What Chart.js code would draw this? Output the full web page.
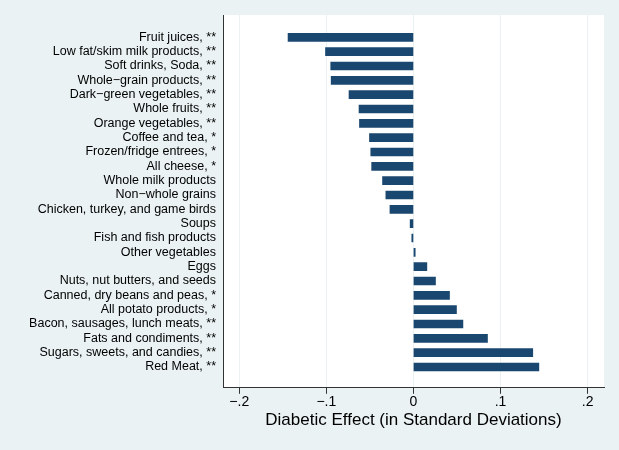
<!DOCTYPE html>
<html>
<head>
<meta charset="utf-8">
<script src="https://cdn.jsdelivr.net/npm/chart.js@4/dist/chart.umd.min.js"></script>
<style>
  html, body { margin: 0; padding: 0; background: #eaf2f3; }
  #wrap { width: 619px; height: 450px; }
</style>
</head>
<body>
<div id="wrap"><canvas id="grafico"></canvas></div>
<script>
// food groups, top to bottom
const categorias = [
  "Fruit juices, **", "Low fat/skim milk products, **", "Soft drinks, Soda, **",
  "Whole\u2212grain products, **", "Dark\u2212green vegetables, **", "Whole fruits, **",
  "Orange vegetables, **", "Coffee and tea, *", "Frozen/fridge entrees, *",
  "All cheese, *", "Whole milk products", "Non\u2212whole grains",
  "Chicken, turkey, and game birds", "Soups", "Fish and fish products",
  "Other vegetables", "Eggs", "Nuts, nut butters, and seeds",
  "Canned, dry beans and peas, *", "All potato products, *",
  "Bacon, sausages, lunch meats, **", "Fats and condiments, **",
  "Sugars, sweets, and candies, **", "Red Meat, **"
];

// diabetic effect (SD)
const efeitos = [
  -0.144, -0.101, -0.095, -0.0945, -0.074, -0.0625,
  -0.062, -0.0505, -0.049, -0.048, -0.0355, -0.0317,
  -0.027, -0.0038, -0.0019, 0.002, 0.0154, 0.0253,
  0.0414, 0.0494, 0.0568, 0.085, 0.137, 0.144
];

const ticksX = [-0.2, -0.1, 0, 0.1, 0.2];
const rotulosX = ["\u2212.2", "\u2212.1", "0", ".1", ".2"];

const fundo = {
  id: 'fundo',
  beforeDraw(chart) {
    const { ctx, chartArea: a } = chart;
    ctx.save();
    ctx.fillStyle = '#eaf2f3';
    ctx.fillRect(0, 0, chart.width, chart.height);
    ctx.fillStyle = '#ffffff';
    ctx.fillRect(a.left, a.top, a.right - a.left, a.bottom - a.top);
    ctx.restore();
  }
};

const fonte = "'Liberation Sans', Arial, Helvetica, sans-serif";

new Chart(document.getElementById('grafico'), {
  type: 'bar',
  data: {
    datasets: [{
      data: efeitos.map((v, i) => ({ x: v, y: i })),
      backgroundColor: '#1a476f',
      borderWidth: 0,
      barThickness: 8
    }]
  },
  options: {
    indexAxis: 'y',
    responsive: true,
    maintainAspectRatio: false,
    animation: false,
    layout: { padding: { left: 0, right: 15, top: 15, bottom: 19 } },
    plugins: { legend: { display: false }, tooltip: { enabled: false } },
    scales: {
      x: {
        type: 'linear',
        min: -0.2187,
        max: 0.2188,
        afterBuildTicks: s => { s.ticks = ticksX.map(v => ({ value: v })); },
        grid: { color: '#eaf2f3', lineWidth: 1, drawTicks: true, tickLength: 6, tickColor: '#333' },
        border: { display: true, color: '#333', width: 1 },
        ticks: {
          color: '#000', padding: 0, maxRotation: 0, autoSkip: false,
          font: { family: fonte, size: 14 },
          callback: (v) => rotulosX[ticksX.indexOf(v)] ?? ''
        },
        title: {
          display: true, text: 'Diabetic Effect (in Standard Deviations)',
          color: '#000', padding: 0, font: { family: fonte, size: 17 }
        }
      },
      y: {
        type: 'linear',
        reverse: true,
        offset: false,
        min: -1.56,
        max: 24.45,
        afterBuildTicks: s => { s.ticks = categorias.map((c, i) => ({ value: i })); },
        afterFit: s => { s.width = 223; },
        grid: { display: false, drawTicks: false },
        border: { display: true, color: '#333', width: 1 },
        ticks: {
          color: '#000', padding: 7, autoSkip: false,
          font: { family: fonte, size: 12.5 },
          callback: (v) => categorias[v] ?? ''
        }
      }
    }
  },
  plugins: [fundo]
});
</script>
</body>
</html>
